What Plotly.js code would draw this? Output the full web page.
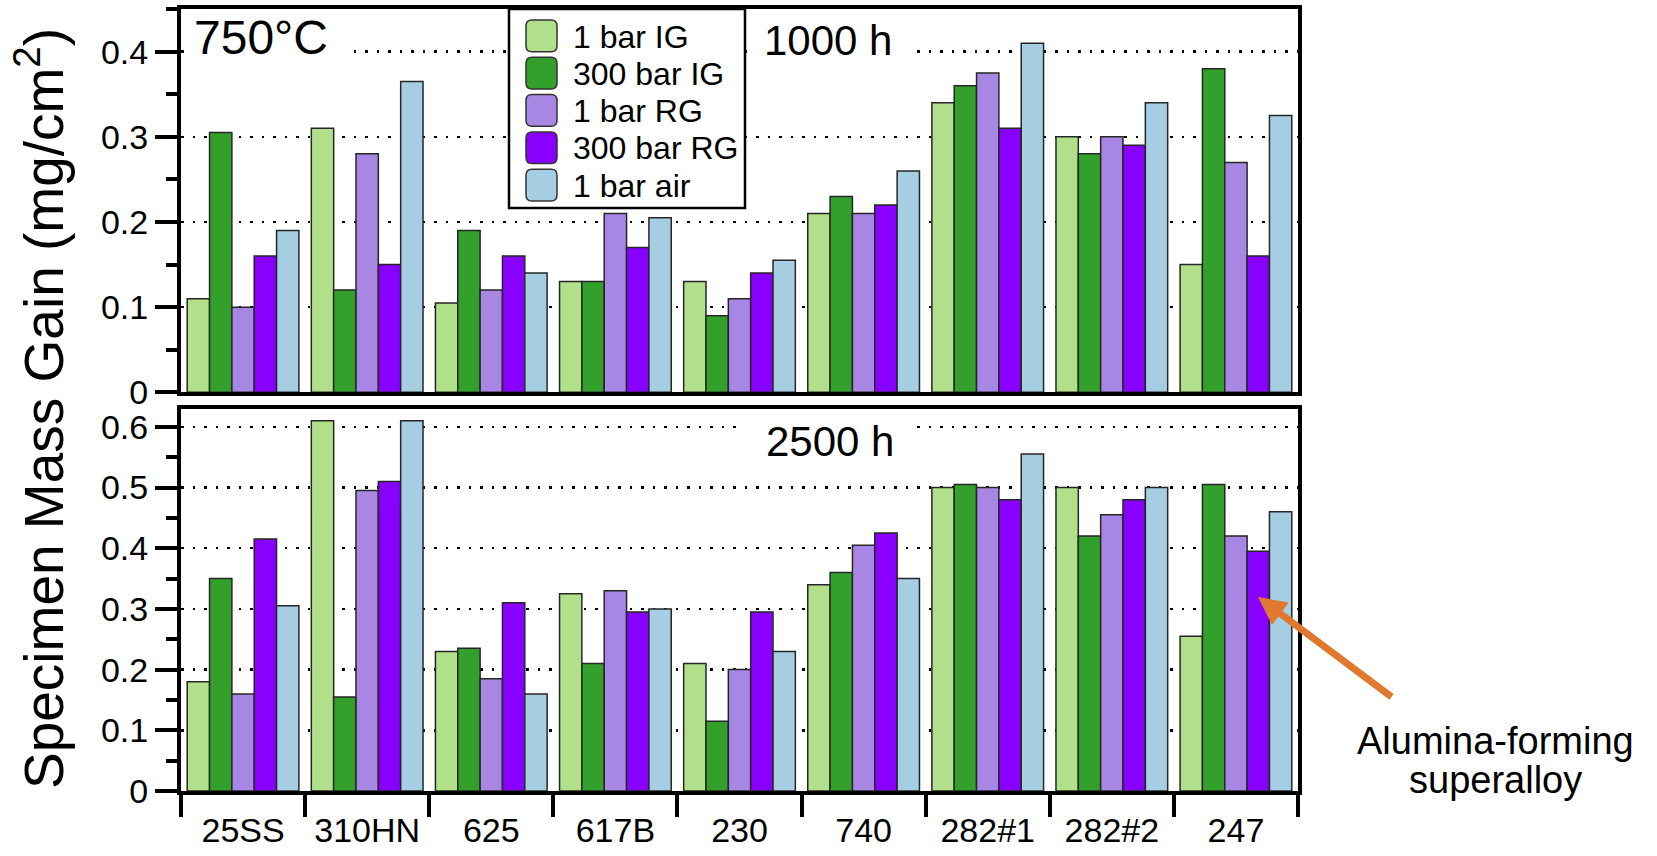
<!DOCTYPE html>
<html>
<head>
<meta charset="utf-8">
<script src="https://cdn.plot.ly/plotly-3.0.1.min.js"></script>
<style>
  html, body { margin: 0; padding: 0; background: #ffffff; }
  #chart { width: 1657px; height: 856px; }
</style>
</head>
<body>
<div id="chart"></div>
<script>
// ---------- data ----------
const categories = ['25SS', '310HN', '625', '617B', '230', '740', '282#1', '282#2', '247'];
const seriesNames = ['1 bar IG', '300 bar IG', '1 bar RG', '300 bar RG', '1 bar air'];
const seriesColors = ['#b2df8a', '#33a02c', '#a787e3', '#8800ff', '#a6cee3'];

// 1000 h exposure (mg/cm2)
const gain1000_1barIG   = [0.11, 0.31, 0.105, 0.13, 0.13, 0.21, 0.34, 0.30, 0.15];
const gain1000_300barIG = [0.305, 0.12, 0.19, 0.13, 0.09, 0.23, 0.36, 0.28, 0.38];
const gain1000_1barRG   = [0.10, 0.28, 0.12, 0.21, 0.11, 0.21, 0.375, 0.30, 0.27];
const gain1000_300barRG = [0.16, 0.15, 0.16, 0.17, 0.14, 0.22, 0.31, 0.29, 0.16];
const gain1000_1barAir  = [0.19, 0.365, 0.14, 0.205, 0.155, 0.26, 0.41, 0.34, 0.325];

// 2500 h exposure (mg/cm2)
const gain2500_1barIG   = [0.18, 0.61, 0.23, 0.325, 0.21, 0.34, 0.50, 0.50, 0.255];
const gain2500_300barIG = [0.35, 0.155, 0.235, 0.21, 0.115, 0.36, 0.505, 0.42, 0.505];
const gain2500_1barRG   = [0.16, 0.495, 0.185, 0.33, 0.20, 0.405, 0.50, 0.455, 0.42];
const gain2500_300barRG = [0.415, 0.51, 0.31, 0.295, 0.295, 0.425, 0.48, 0.48, 0.395];
const gain2500_1barAir  = [0.305, 0.61, 0.16, 0.30, 0.23, 0.35, 0.555, 0.50, 0.46];

const yTicks1000 = [0, 0.1, 0.2, 0.3, 0.4];
const yTicks2500 = [0, 0.1, 0.2, 0.3, 0.4, 0.5, 0.6];

// ---------- layout helpers ----------
const W = 1657, H = 856;
const px = x => x / W;
const py = y => 1 - y / H;
const FONT = 'Liberation Sans, Arial, Helvetica, sans-serif';

const data1000 = [gain1000_1barIG, gain1000_300barIG, gain1000_1barRG, gain1000_300barRG, gain1000_1barAir];
const data2500 = [gain2500_1barIG, gain2500_300barIG, gain2500_1barRG, gain2500_300barRG, gain2500_1barAir];

const traces = [];
data1000.forEach((vals, i) => {
  traces.push({
    type: 'bar', x: categories, y: vals, name: seriesNames[i],
    xaxis: 'x', yaxis: 'y', showlegend: false,
    marker: { color: seriesColors[i], line: { color: '#262626', width: 1.5 } },
    hoverinfo: 'x+y+name'
  });
});
data2500.forEach((vals, i) => {
  traces.push({
    type: 'bar', x: categories, y: vals, name: seriesNames[i],
    xaxis: 'x2', yaxis: 'y2', showlegend: false,
    marker: { color: seriesColors[i], line: { color: '#262626', width: 1.5 } },
    hoverinfo: 'x+y+name'
  });
});

const xDomain = [px(181), px(1298)];

const yCommon = {
  showline: true, linewidth: 4, linecolor: 'black', mirror: true,
  ticks: 'outside', ticklen: 22, tickwidth: 4, tickcolor: 'black',
  tickfont: { family: FONT, size: 34, color: 'black' },
  ticklabelstandoff: 0,
  showgrid: true, gridcolor: 'black', gridwidth: 2.5, griddash: '2.5px,9px',
  zeroline: false, automargin: false, fixedrange: true,
  minor: { dtick: 0.05, ticks: 'outside', ticklen: 11, tickwidth: 4, tickcolor: 'black', showgrid: false }
};

const layout = {
  width: W, height: H,
  margin: { l: 0, r: 0, t: 0, b: 0 },
  paper_bgcolor: 'white', plot_bgcolor: 'white',
  barmode: 'group', bargap: 0.1, bargroupgap: 0,
  showlegend: false,
  font: { family: FONT, color: 'black' },
  xaxis: {
    domain: xDomain, anchor: 'y', type: 'category',
    categoryorder: 'array', categoryarray: categories,
    showline: true, linewidth: 4, linecolor: 'black', mirror: true,
    ticks: '', showticklabels: false, showgrid: false, zeroline: false,
    automargin: false, fixedrange: true
  },
  xaxis2: {
    domain: xDomain, anchor: 'y2', type: 'category', matches: 'x',
    categoryorder: 'array', categoryarray: categories,
    showline: true, linewidth: 4, linecolor: 'black', mirror: true,
    ticks: 'outside', tickson: 'boundaries', ticklen: 22, tickwidth: 4, tickcolor: 'black',
    tickfont: { family: FONT, size: 34, color: 'black' },
    ticklabelstandoff: 6,
    showgrid: false, zeroline: false, automargin: false, fixedrange: true
  },
  yaxis: Object.assign({}, yCommon, {
    domain: [py(392.3), py(9.1)], anchor: 'x',
    range: [0, 0.45], tickvals: yTicks1000, ticktext: yTicks1000.map(String)
  }),
  yaxis2: Object.assign({}, yCommon, {
    domain: [py(791), py(408.6)], anchor: 'x2',
    range: [0, 0.63], tickvals: yTicks2500, ticktext: yTicks2500.map(String)
  }),
  shapes: [],
  annotations: []
};

// white masks that interrupt the dotted gridlines behind the panel labels
// (placed where no bar reaches, so they only hide the dotted lines)
[[185, 352, 28, 74], [747, 912, 28, 74], [737, 912, 414, 464]].forEach(m => {
  layout.shapes.push({
    type: 'rect', xref: 'paper', yref: 'paper',
    x0: px(m[0]), x1: px(m[1]), y0: py(m[3]), y1: py(m[2]),
    fillcolor: 'white', line: { width: 0 }, layer: 'above'
  });
});

// panel labels
layout.annotations.push({
  xref: 'paper', yref: 'paper', x: px(261), y: py(38), xanchor: 'center', yanchor: 'middle',
  text: '750°C', showarrow: false, font: { family: FONT, size: 48, color: 'black' }
});
layout.annotations.push({
  xref: 'paper', yref: 'paper', x: px(828), y: py(41), xanchor: 'center', yanchor: 'middle',
  text: '1000 h', showarrow: false, font: { family: FONT, size: 42, color: 'black' }
});
layout.annotations.push({
  xref: 'paper', yref: 'paper', x: px(830), y: py(441), xanchor: 'center', yanchor: 'middle',
  text: '2500 h', showarrow: false, font: { family: FONT, size: 42, color: 'black' }
});

// y-axis title
layout.annotations.push({
  xref: 'paper', yref: 'paper', x: px(40), y: py(409), xanchor: 'center', yanchor: 'middle',
  text: 'Specimen Mass Gain (mg/cm<sup>2</sup>)', textangle: -90, showarrow: false,
  font: { family: FONT, size: 55, color: 'black' }
});

// custom legend (large rounded swatches as in the original)
layout.shapes.push({
  type: 'rect', xref: 'paper', yref: 'paper',
  x0: px(509), x1: px(745), y0: py(208), y1: py(9),
  fillcolor: 'white', line: { color: 'black', width: 2.5 }, layer: 'above'
});
function roundedRect(x0, y0, x1, y1, r) {
  const P = (x, y) => px(x) + ',' + py(y);
  return 'M' + P(x0 + r, y0) + ' L' + P(x1 - r, y0) + ' Q' + P(x1, y0) + ' ' + P(x1, y0 + r) +
         ' L' + P(x1, y1 - r) + ' Q' + P(x1, y1) + ' ' + P(x1 - r, y1) +
         ' L' + P(x0 + r, y1) + ' Q' + P(x0, y1) + ' ' + P(x0, y1 - r) +
         ' L' + P(x0, y0 + r) + ' Q' + P(x0, y0) + ' ' + P(x0 + r, y0) + ' Z';
}
seriesNames.forEach((name, i) => {
  const top = 20 + i * 37.3;
  layout.shapes.push({
    type: 'path', xref: 'paper', yref: 'paper',
    path: roundedRect(526, top, 557, top + 31.7, 6),
    fillcolor: seriesColors[i], line: { color: '#333333', width: 1.5 }, layer: 'above'
  });
  layout.annotations.push({
    xref: 'paper', yref: 'paper', x: px(571), y: py(top + 16.5), xanchor: 'left', yanchor: 'middle',
    text: name, showarrow: false, font: { family: FONT, size: 32, color: 'black' }
  });
});

// call-out arrow and text
layout.annotations.push({
  xref: 'paper', yref: 'paper', x: px(1258), y: py(597),
  axref: 'pixel', ayref: 'pixel', ax: 135, ay: 101,
  text: '', showarrow: true, arrowhead: 2, arrowsize: 0.8, arrowwidth: 7,
  arrowcolor: '#e0782f', standoff: 0, startstandoff: 0
});
layout.annotations.push({
  xref: 'paper', yref: 'paper', x: px(1495), y: py(741), xanchor: 'center', yanchor: 'middle',
  text: 'Alumina-forming', showarrow: false, font: { family: FONT, size: 38, color: 'black' }
});
layout.annotations.push({
  xref: 'paper', yref: 'paper', x: px(1495), y: py(780), xanchor: 'center', yanchor: 'middle',
  text: 'superalloy', showarrow: false, font: { family: FONT, size: 38, color: 'black' }
});

Plotly.newPlot('chart', traces, layout, { displayModeBar: false, staticPlot: true });
</script>
</body>
</html>
